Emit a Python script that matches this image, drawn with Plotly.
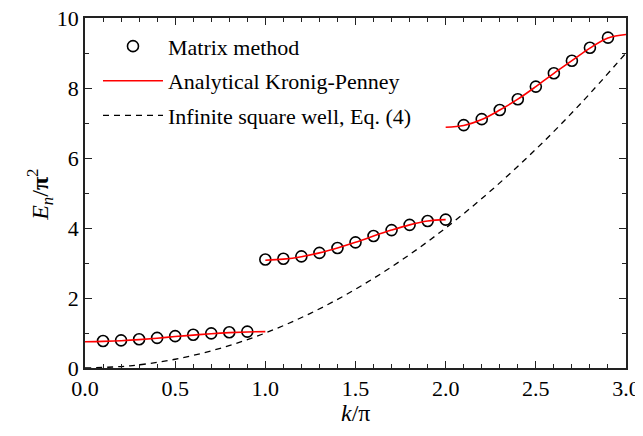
import plotly.graph_objects as go

# Matrix method (circles)
k_b1 = [0.1, 0.2, 0.3, 0.4, 0.5, 0.6, 0.7, 0.8, 0.9]
E_b1 = [0.77, 0.79, 0.82, 0.86, 0.91, 0.95, 0.99, 1.02, 1.04]
k_b2 = [1.0, 1.1, 1.2, 1.3, 1.4, 1.5, 1.6, 1.7, 1.8, 1.9, 2.0]
E_b2 = [3.10, 3.12, 3.19, 3.29, 3.43, 3.59, 3.77, 3.94, 4.09, 4.20, 4.24]
k_b3 = [2.1, 2.2, 2.3, 2.4, 2.5, 2.6, 2.7, 2.8, 2.9]
E_b3 = [6.94, 7.11, 7.37, 7.68, 8.04, 8.42, 8.78, 9.15, 9.44]

# Analytical Kronig-Penney (red lines)
kp_k1 = [0.0, 0.1, 0.2, 0.3, 0.4, 0.5, 0.6, 0.7, 0.8, 0.9, 1.0]
kp_E1 = [0.75, 0.76, 0.78, 0.81, 0.85, 0.90, 0.94, 0.98, 1.01, 1.03, 1.04]
kp_k2 = [1.0, 1.1, 1.2, 1.3, 1.4, 1.5, 1.6, 1.7, 1.8, 1.9, 2.0]
kp_E2 = [3.08, 3.11, 3.18, 3.29, 3.43, 3.59, 3.77, 3.94, 4.09, 4.20, 4.24]
kp_k3 = [2.0, 2.1, 2.2, 2.3, 2.4, 2.5, 2.6, 2.7, 2.8, 2.9, 3.0]
kp_E3 = [6.88, 6.93, 7.10, 7.37, 7.68, 8.04, 8.42, 8.78, 9.14, 9.43, 9.53]

# Infinite square well (dashed)
isw_k = [0.0, 0.25, 0.5, 0.75, 1.0, 1.25, 1.5, 1.75, 2.0, 2.25, 2.5, 2.75, 3.0]
isw_E = [0.0, 0.0625, 0.25, 0.5625, 1.0, 1.5625, 2.25, 3.0625, 4.0, 5.0625, 6.25, 7.5625, 9.0]

x_tickvals = [0, 0.5, 1.0, 1.5, 2.0, 2.5, 3.0]
x_ticktext = ["0.0", "0.5", "1.0", "1.5", "2.0", "2.5", "3.0"]
y_tickvals = [0, 2, 4, 6, 8, 10]

FONT = "Liberation Serif"

fig = go.Figure()

mk = dict(symbol="circle-open", size=11, color="black", line=dict(width=1.6, color="black"))
fig.add_trace(go.Scatter(x=k_b1 + [None] + k_b2 + [None] + k_b3,
                         y=E_b1 + [None] + E_b2 + [None] + E_b3,
                         mode="markers", marker=mk, name="Matrix method",
                         legendgroup="a"))
fig.add_trace(go.Scatter(x=kp_k1 + [None] + kp_k2 + [None] + kp_k3,
                         y=kp_E1 + [None] + kp_E2 + [None] + kp_E3,
                         mode="lines", line=dict(color="#ff0000", width=1.6, shape="spline"),
                         name="Analytical Kronig-Penney", legendgroup="b"))
fig.add_trace(go.Scatter(x=isw_k, y=isw_E, mode="lines",
                         line=dict(color="black", width=1.3, dash="6px,5px", shape="spline"),
                         name="Infinite square well, Eq. (4)", legendgroup="c"))

axis_common = dict(showline=True, linecolor="#222222", linewidth=1.8, mirror="ticks",
                   ticks="inside", ticklen=7, tickwidth=1.2, tickcolor="#222222",
                   showgrid=False, zeroline=False, automargin=False,
                   ticklabeloverflow="allow",
                   tickfont=dict(family=FONT, size=22, color="black"))

fig.update_xaxes(range=[0, 3], tickvals=x_tickvals, ticktext=x_ticktext,
                 minor=dict(ticks="inside", ticklen=4, tickwidth=1.0, tickcolor="#222222", dtick=0.1),
                 **axis_common)
fig.update_yaxes(range=[0, 10], tickvals=y_tickvals,
                 minor=dict(ticks="inside", ticklen=4, tickwidth=1.0, tickcolor="#222222", dtick=1),
                 **axis_common)

fig.add_annotation(text="<i>k</i>/π", xref="paper", yref="paper", x=0.5, y=-0.128,
                   xanchor="center", yanchor="middle", showarrow=False,
                   font=dict(family=FONT, size=24, color="black"))
fig.add_annotation(text="<i>E</i><sub><i>n</i></sub>/<b>π</b><sup>2</sup>",
                   xref="paper", yref="paper", x=-0.083, y=0.495, textangle=-90,
                   xanchor="center", yanchor="middle", showarrow=False,
                   font=dict(family=FONT, size=24, color="black"))

# page body adds an 8px offset, so the figure is sized to fit the 643x436 window
fig.update_layout(width=635, height=428,
                  margin=dict(l=77, r=17, t=10, b=68),
                  paper_bgcolor="white", plot_bgcolor="white",
                  showlegend=True,
                  legend=dict(x=0.024, y=0.979, xanchor="left", yanchor="top",
                              bgcolor="rgba(0,0,0,0)", borderwidth=0,
                              font=dict(family=FONT, size=22, color="black"),
                              itemwidth=60, tracegroupgap=3, traceorder="grouped"))

fig.write_html("out.html")
